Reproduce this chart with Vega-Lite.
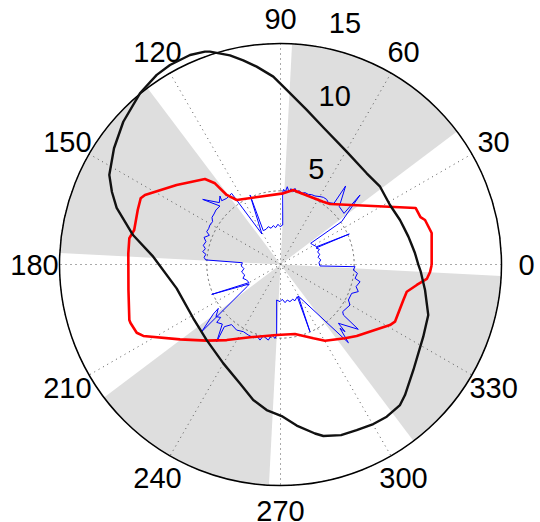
{
  "$schema": "https://vega.github.io/schema/vega-lite/v6.json",
  "width": 442,
  "height": 442,
  "autosize": "none",
  "padding": {"left": 59.5, "top": 43.5, "right": 38.5, "bottom": 36.5},
  "config": {"view": {"stroke": null}, "font": "Liberation Sans"},
  "datasets": {
    "wedges": [{"t0": 37, "t1": 87}, {"t0": 127, "t1": 177}, {"t0": 217, "t1": 267}, {"t0": 307, "t1": 357}],
    "rings": [{"r": 5}, {"r": 10}],
    "outer": [{"r": 15}],
    "spokes": [
      {"x1": 15, "y1": 0, "x2": -15, "y2": 0},
      {"x1": 12.99, "y1": 7.5, "x2": -12.99, "y2": -7.5},
      {"x1": 7.5, "y1": 12.99, "x2": -7.5, "y2": -12.99},
      {"x1": 0, "y1": 15, "x2": 0, "y2": -15},
      {"x1": -7.5, "y1": 12.99, "x2": 7.5, "y2": -12.99},
      {"x1": -12.99, "y1": 7.5, "x2": 12.99, "y2": -7.5}
    ],
    "angles": [
      {"a": 0, "label": "0"}, {"a": 30, "label": "30"}, {"a": 60, "label": "60"}, {"a": 90, "label": "90"},
      {"a": 120, "label": "120"}, {"a": 150, "label": "150"}, {"a": 180, "label": "180"}, {"a": 210, "label": "210"},
      {"a": 240, "label": "240"}, {"a": 270, "label": "270"}, {"a": 300, "label": "300"}, {"a": 330, "label": "330"}
    ],
    "rticks": [{"r": 5, "label": "5"}, {"r": 10, "label": "10"}, {"r": 15, "label": "15"}],
    "red": [
      {"i":0,"x":10.26,"y":-0.03},{"i":1,"x":10.26,"y":2.14},{"i":2,"x":9.81,"y":3.02},{"i":3,"x":9.50,"y":3.22},
      {"i":4,"x":9.17,"y":3.84},{"i":5,"x":3.36,"y":4.11},{"i":6,"x":2.89,"y":4.26},{"i":7,"x":1.32,"y":4.87},
      {"i":8,"x":0.87,"y":5.06},{"i":9,"x":0.19,"y":4.83},{"i":10,"x":-2.97,"y":4.38},{"i":11,"x":-3.65,"y":4.72},
      {"i":12,"x":-4.45,"y":5.51},{"i":13,"x":-5.13,"y":5.80},{"i":14,"x":-7.05,"y":5.40},{"i":15,"x":-9.20,"y":4.72},
      {"i":16,"x":-9.49,"y":4.49},{"i":17,"x":-9.69,"y":3.70},{"i":18,"x":-9.93,"y":2.34},{"i":19,"x":-10.26,"y":1.78},
      {"i":20,"x":-10.33,"y":0.76},{"i":21,"x":-10.32,"y":-1.73},{"i":22,"x":-10.26,"y":-3.77},{"i":23,"x":-10.18,"y":-3.97},
      {"i":24,"x":-9.76,"y":-4.63},{"i":25,"x":-9.31,"y":-4.85},{"i":26,"x":-6.82,"y":-5.08},{"i":27,"x":-5.01,"y":-5.17},
      {"i":28,"x":-3.65,"y":-5.13},{"i":29,"x":-2.07,"y":-4.94},{"i":30,"x":-0.26,"y":-4.79},{"i":31,"x":0.98,"y":-4.72},
      {"i":32,"x":2.23,"y":-5.01},{"i":33,"x":3.02,"y":-5.17},{"i":34,"x":4.38,"y":-5.01},{"i":35,"x":5.17,"y":-4.85},
      {"i":36,"x":6.76,"y":-4.33},{"i":37,"x":7.43,"y":-4.11},{"i":38,"x":7.77,"y":-3.88},{"i":39,"x":8.34,"y":-2.41},
      {"i":40,"x":8.57,"y":-1.85},{"i":41,"x":9.25,"y":-1.39},{"i":42,"x":9.93,"y":-0.98},{"i":43,"x":10.15,"y":-0.51},
      {"i":44,"x":10.26,"y":-0.03}
    ],
    "black": [
      {"i":0,"x":9.36,"y":-0.03},{"i":1,"x":9.13,"y":0.76},{"i":2,"x":8.91,"y":1.32},{"i":3,"x":8.68,"y":1.89},
      {"i":4,"x":8.34,"y":2.57},{"i":5,"x":8.11,"y":3.02},{"i":6,"x":7.43,"y":4.04},{"i":7,"x":6.76,"y":5.28},
      {"i":8,"x":5.85,"y":6.19},{"i":9,"x":4.49,"y":7.66},{"i":10,"x":2.91,"y":9.30},{"i":11,"x":1.78,"y":10.49},
      {"i":12,"x":0.42,"y":11.85},{"i":13,"x":-0.49,"y":12.75},{"i":14,"x":-1.62,"y":13.43},{"i":15,"x":-2.53,"y":13.85},
      {"i":16,"x":-3.43,"y":14.19},{"i":17,"x":-4.79,"y":14.45},{"i":18,"x":-5.13,"y":14.45},{"i":19,"x":-6.14,"y":14.22},
      {"i":20,"x":-7.50,"y":13.54},{"i":21,"x":-8.40,"y":12.87},{"i":22,"x":-9.54,"y":11.62},{"i":23,"x":-10.67,"y":9.69},
      {"i":24,"x":-11.30,"y":7.89},{"i":25,"x":-11.62,"y":6.08},{"i":26,"x":-11.44,"y":4.92},{"i":27,"x":-11.12,"y":3.84},
      {"i":28,"x":-10.01,"y":2.00},{"i":29,"x":-8.64,"y":0.53},{"i":30,"x":-7.05,"y":-1.62},{"i":31,"x":-5.92,"y":-3.65},
      {"i":32,"x":-5.01,"y":-5.13},{"i":33,"x":-3.88,"y":-6.71},{"i":34,"x":-2.75,"y":-8.07},{"i":35,"x":-1.85,"y":-9.20},
      {"i":36,"x":-0.94,"y":-9.88},{"i":37,"x":0.08,"y":-10.29},{"i":38,"x":1.10,"y":-10.93},{"i":39,"x":2.34,"y":-11.47},
      {"i":40,"x":2.91,"y":-11.64},{"i":41,"x":4.11,"y":-11.58},{"i":42,"x":5.17,"y":-11.24},{"i":43,"x":6.30,"y":-10.83},
      {"i":44,"x":7.21,"y":-10.33},{"i":45,"x":8.11,"y":-9.54},{"i":46,"x":8.45,"y":-8.86},{"i":47,"x":9.02,"y":-7.16},
      {"i":48,"x":9.69,"y":-4.90},{"i":49,"x":10.03,"y":-3.43},{"i":50,"x":9.81,"y":-1.73},{"i":51,"x":9.52,"y":-0.49},
      {"i":52,"x":9.36,"y":-0.03}
    ],
    "blue": [
      {"i":0,"x":2.68,"y":-0.10},{"i":1,"x":2.61,"y":0.12},{"i":2,"x":2.73,"y":0.31},{"i":3,"x":2.55,"y":0.49},
      {"i":4,"x":2.66,"y":0.69},{"i":5,"x":2.52,"y":0.85},{"i":6,"x":2.64,"y":1.03},{"i":7,"x":2.41,"y":1.12},
      {"i":8,"x":4.67,"y":2.07},{"i":9,"x":2.46,"y":1.21},{"i":10,"x":2.18,"y":1.35},{"i":11,"x":2.05,"y":1.44},
      {"i":12,"x":4.15,"y":2.91},{"i":13,"x":5.40,"y":4.72},{"i":14,"x":4.31,"y":3.47},{"i":15,"x":3.99,"y":3.93},
      {"i":16,"x":4.42,"y":5.33},{"i":17,"x":3.63,"y":4.15},{"i":18,"x":3.25,"y":4.20},{"i":19,"x":3.13,"y":4.42},
      {"i":20,"x":2.91,"y":4.56},{"i":21,"x":2.68,"y":4.61},{"i":22,"x":2.34,"y":4.65},{"i":23,"x":2.12,"y":4.74},
      {"i":24,"x":1.89,"y":4.76},{"i":25,"x":1.66,"y":4.88},{"i":26,"x":1.44,"y":4.83},{"i":27,"x":1.28,"y":5.01},
      {"i":28,"x":1.10,"y":4.94},{"i":29,"x":0.98,"y":5.17},{"i":30,"x":0.87,"y":4.94},{"i":31,"x":0.71,"y":5.15},
      {"i":32,"x":0.58,"y":4.92},{"i":33,"x":0.46,"y":5.28},{"i":34,"x":0.33,"y":4.92},{"i":35,"x":0.21,"y":5.10},
      {"i":36,"x":0.15,"y":4.88},{"i":37,"x":0.15,"y":2.68},{"i":38,"x":-0.03,"y":2.57},{"i":39,"x":-0.17,"y":2.73},
      {"i":40,"x":-0.33,"y":2.50},{"i":41,"x":-0.49,"y":2.64},{"i":42,"x":-0.64,"y":2.46},{"i":43,"x":-0.83,"y":2.57},
      {"i":44,"x":-0.98,"y":2.39},{"i":45,"x":-1.17,"y":2.30},{"i":46,"x":-2.07,"y":4.72},{"i":47,"x":-1.26,"y":2.07},
      {"i":48,"x":-3.32,"y":4.83},{"i":49,"x":-3.65,"y":4.49},{"i":50,"x":-3.99,"y":4.33},{"i":51,"x":-4.11,"y":4.65},
      {"i":52,"x":-4.15,"y":4.20},{"i":53,"x":-5.28,"y":4.42},{"i":54,"x":-4.11,"y":3.97},{"i":55,"x":-4.38,"y":3.70},
      {"i":56,"x":-4.51,"y":3.43},{"i":57,"x":-4.65,"y":3.20},{"i":58,"x":-4.61,"y":2.91},{"i":59,"x":-4.79,"y":2.68},
      {"i":60,"x":-4.88,"y":2.43},{"i":61,"x":-5.01,"y":2.23},{"i":62,"x":-4.83,"y":1.98},{"i":63,"x":-5.19,"y":1.84},
      {"i":64,"x":-5.06,"y":1.55},{"i":65,"x":-5.24,"y":1.30},{"i":66,"x":-5.10,"y":1.07},{"i":67,"x":-5.28,"y":0.87},
      {"i":68,"x":-5.06,"y":0.69},{"i":69,"x":-5.19,"y":0.49},{"i":70,"x":-5.08,"y":0.31},{"i":71,"x":-2.59,"y":0.12},
      {"i":72,"x":-2.66,"y":-0.10},{"i":73,"x":-2.48,"y":-0.28},{"i":74,"x":-2.64,"y":-0.51},{"i":75,"x":-2.43,"y":-0.71},
      {"i":76,"x":-2.55,"y":-0.94},{"i":77,"x":-2.30,"y":-1.05},{"i":78,"x":-2.14,"y":-1.23},{"i":79,"x":-4.67,"y":-2.03},
      {"i":80,"x":-2.12,"y":-1.32},{"i":81,"x":-2.23,"y":-1.46},{"i":82,"x":-5.35,"y":-4.56},{"i":83,"x":-4.56,"y":-3.36},
      {"i":84,"x":-4.22,"y":-2.98},{"i":85,"x":-4.38,"y":-3.54},{"i":86,"x":-4.06,"y":-3.59},{"i":87,"x":-4.33,"y":-3.93},
      {"i":88,"x":-3.95,"y":-4.04},{"i":89,"x":-4.33,"y":-5.24},{"i":90,"x":-3.81,"y":-4.22},{"i":91,"x":-3.32,"y":-4.08},
      {"i":92,"x":-2.98,"y":-4.45},{"i":93,"x":-2.52,"y":-4.56},{"i":94,"x":-2.18,"y":-4.79},{"i":95,"x":-1.84,"y":-4.97},
      {"i":96,"x":-1.62,"y":-4.83},{"i":97,"x":-1.39,"y":-5.13},{"i":98,"x":-1.17,"y":-4.85},{"i":99,"x":-0.83,"y":-5.13},
      {"i":100,"x":-0.60,"y":-4.79},{"i":101,"x":-0.37,"y":-5.01},{"i":102,"x":-0.26,"y":-4.79},{"i":103,"x":-0.26,"y":-2.41},
      {"i":104,"x":-0.03,"y":-2.52},{"i":105,"x":0.12,"y":-2.36},{"i":106,"x":0.31,"y":-2.59},{"i":107,"x":0.46,"y":-2.41},
      {"i":108,"x":0.64,"y":-2.52},{"i":109,"x":0.83,"y":-2.36},{"i":110,"x":0.98,"y":-2.46},{"i":111,"x":1.14,"y":-2.18},
      {"i":112,"x":2.00,"y":-4.56},{"i":113,"x":1.21,"y":-2.14},{"i":114,"x":4.61,"y":-5.31},{"i":115,"x":4.04,"y":-4.33},
      {"i":116,"x":4.38,"y":-4.56},{"i":117,"x":3.93,"y":-3.99},{"i":118,"x":5.28,"y":-4.40},{"i":119,"x":4.27,"y":-3.43},
      {"i":120,"x":4.22,"y":-3.20},{"i":121,"x":4.72,"y":-2.75},{"i":122,"x":4.61,"y":-2.41},{"i":123,"x":4.83,"y":-1.96},
      {"i":124,"x":5.28,"y":-1.84},{"i":125,"x":5.13,"y":-1.50},{"i":126,"x":5.40,"y":-1.17},{"i":127,"x":5.06,"y":-0.94},
      {"i":128,"x":5.22,"y":-0.60},{"i":129,"x":4.94,"y":-0.37},{"i":130,"x":5.06,"y":-0.15},{"i":131,"x":2.68,"y":-0.10}
    ]
  },
  "layer": [
    {
      "data": {"name": "wedges"},
      "mark": {"type": "arc", "fill": "#dedede", "stroke": null},
      "encoding": {
        "theta": {"field": "t0", "type": "quantitative", "stack": null, "scale": {"type": "linear", "domain": [0, 360], "range": [1.5708, -4.7124], "nice": false, "zero": false}},
        "theta2": {"field": "t1"},
        "radius": {"datum": 15, "type": "quantitative", "scale": {"type": "linear", "domain": [0, 15], "range": [0, 221], "nice": false, "zero": true}}
      }
    },
    {
      "data": {"name": "spokes"},
      "mark": {"type": "rule", "stroke": "#555555", "strokeWidth": 1, "strokeDash": [1, 4]},
      "encoding": {
        "x": {"field": "x1", "type": "quantitative", "scale": {"domain": [-15, 15], "nice": false, "zero": false}, "axis": null},
        "y": {"field": "y1", "type": "quantitative", "scale": {"domain": [-15, 15], "nice": false, "zero": false}, "axis": null},
        "x2": {"field": "x2"},
        "y2": {"field": "y2"}
      }
    },
    {
      "data": {"name": "rings"},
      "mark": {"type": "arc", "theta": 0, "theta2": 6.2832, "filled": false, "fill": null, "stroke": "#555555", "strokeWidth": 1, "strokeDash": [1, 4]},
      "encoding": {
        "radius": {"field": "r", "type": "quantitative", "scale": {"type": "linear", "domain": [0, 15], "range": [0, 221], "nice": false, "zero": true}}
      }
    },
    {
      "data": {"name": "outer"},
      "mark": {"type": "arc", "theta": 0, "theta2": 6.2832, "filled": false, "fill": null, "stroke": "#000000", "strokeWidth": 1.5},
      "encoding": {
        "radius": {"field": "r", "type": "quantitative", "scale": {"type": "linear", "domain": [0, 15], "range": [0, 221], "nice": false, "zero": true}}
      }
    },
    {
      "data": {"name": "angles"},
      "mark": {"type": "text", "font": "Liberation Sans", "fontSize": 29, "align": "center", "baseline": "alphabetic", "dy": 10.4, "color": "#000000"},
      "encoding": {
        "theta": {"field": "a", "type": "quantitative", "stack": null, "scale": {"type": "linear", "domain": [0, 360], "range": [1.5708, -4.7124], "nice": false, "zero": false}},
        "radius": {"datum": 16.7, "type": "quantitative", "scale": {"type": "linear", "domain": [0, 15], "range": [0, 221], "nice": false, "zero": true}},
        "text": {"field": "label"}
      }
    },
    {
      "data": {"name": "rticks"},
      "mark": {"type": "text", "font": "Liberation Sans", "fontSize": 29, "align": "left", "baseline": "alphabetic", "dx": 17.5, "dy": -12.5, "color": "#000000"},
      "encoding": {
        "theta": {"datum": 82, "type": "quantitative", "scale": {"type": "linear", "domain": [0, 360], "range": [1.5708, -4.7124], "nice": false, "zero": false}},
        "radius": {"field": "r", "type": "quantitative", "scale": {"type": "linear", "domain": [0, 15], "range": [0, 221], "nice": false, "zero": true}},
        "text": {"field": "label"}
      }
    },
    {
      "data": {"name": "blue"},
      "mark": {"type": "line", "color": "#0000ff", "strokeWidth": 1, "strokeJoin": "round"},
      "encoding": {
        "x": {"field": "x", "type": "quantitative", "scale": {"domain": [-15, 15], "nice": false, "zero": false}, "axis": null},
        "y": {"field": "y", "type": "quantitative", "scale": {"domain": [-15, 15], "nice": false, "zero": false}, "axis": null},
        "order": {"field": "i", "type": "quantitative"}
      }
    },
    {
      "data": {"name": "red"},
      "mark": {"type": "line", "color": "#ff0000", "strokeWidth": 2.6, "strokeJoin": "round"},
      "encoding": {
        "x": {"field": "x", "type": "quantitative", "scale": {"domain": [-15, 15], "nice": false, "zero": false}, "axis": null},
        "y": {"field": "y", "type": "quantitative", "scale": {"domain": [-15, 15], "nice": false, "zero": false}, "axis": null},
        "order": {"field": "i", "type": "quantitative"}
      }
    },
    {
      "data": {"name": "black"},
      "mark": {"type": "line", "color": "#111111", "strokeWidth": 2.4, "strokeJoin": "round"},
      "encoding": {
        "x": {"field": "x", "type": "quantitative", "scale": {"domain": [-15, 15], "nice": false, "zero": false}, "axis": null},
        "y": {"field": "y", "type": "quantitative", "scale": {"domain": [-15, 15], "nice": false, "zero": false}, "axis": null},
        "order": {"field": "i", "type": "quantitative"}
      }
    }
  ]
}
